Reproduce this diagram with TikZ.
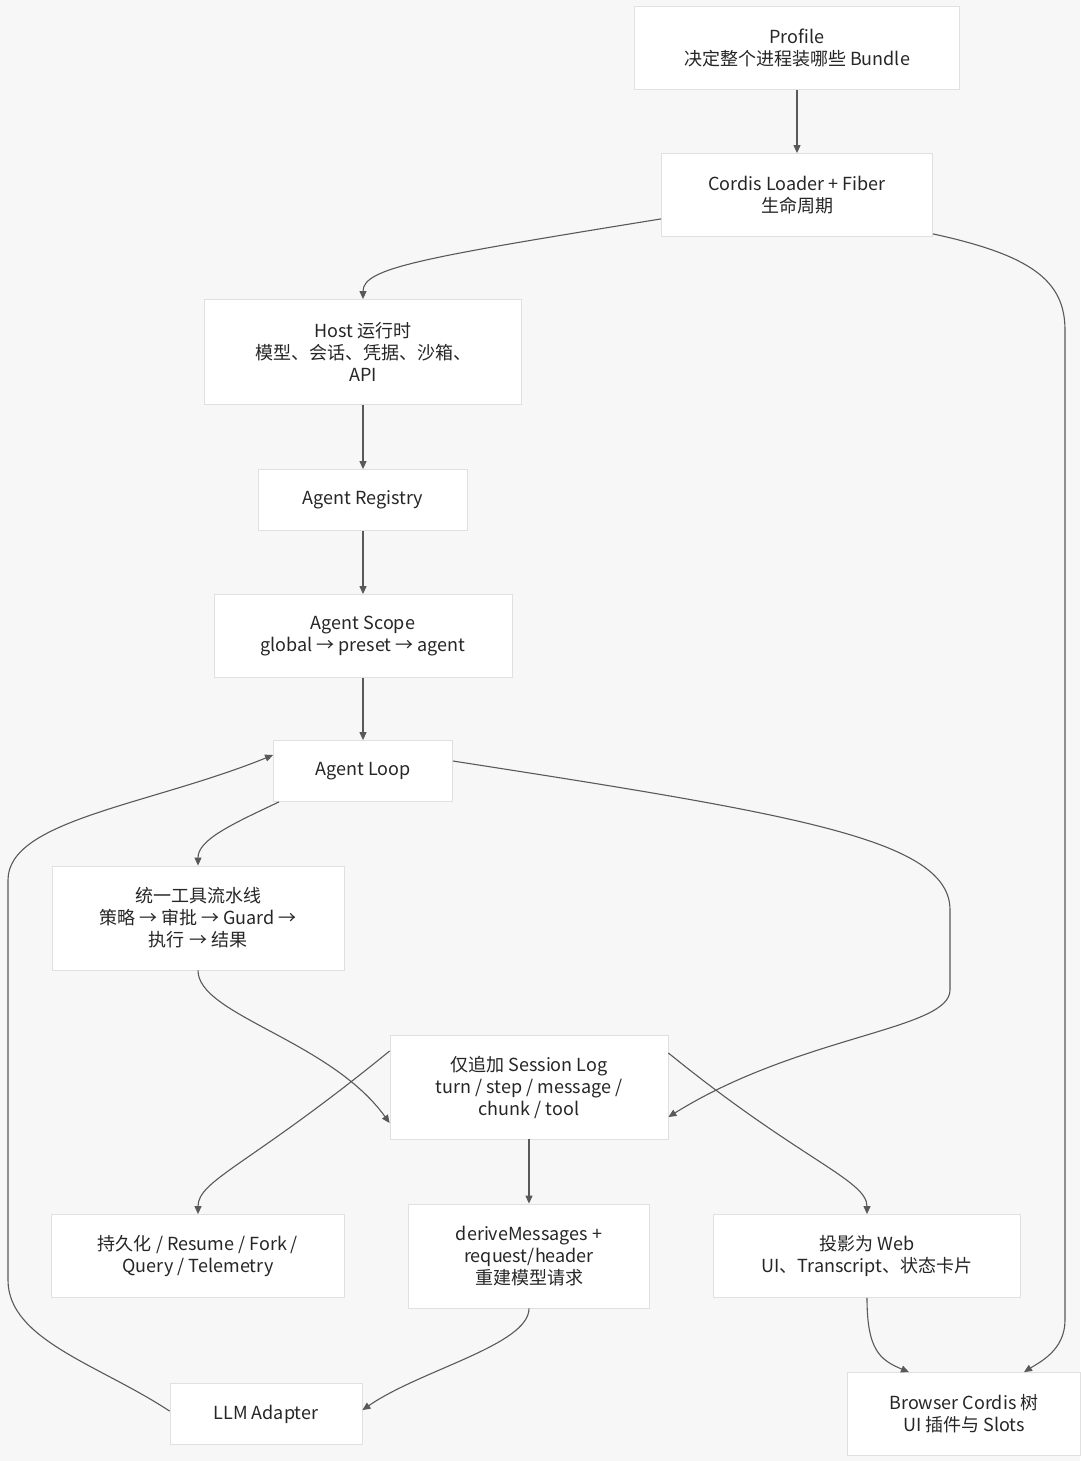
\documentclass[tikz,border=0pt]{standalone}
\usepackage{fontspec}
\setmainfont{Noto Sans CJK SC}
\usetikzlibrary{arrows.meta}
\begin{document}
\begin{tikzpicture}[x=1pt,y=-1pt,
  box/.style={draw=black!12,fill=white,line width=0.8pt,align=center,inner sep=0pt,text=black!85,font=\fontsize{18}{22}\selectfont},
  conn/.style={draw=black!65,line width=1.1pt,-{Triangle[length=8pt,width=7pt]}}]
\fill[black!3] (0,0) rectangle (1080,1461);
\useasboundingbox (0,0) rectangle (1080,1461);
\node[box,minimum width=325,minimum height=83] (prof) at (797,48) {Profile\\决定整个进程装哪些 Bundle};
\node[box,minimum width=271,minimum height=83] (cord) at (797,195) {Cordis Loader + Fiber\\生命周期};
\node[box,minimum width=317,minimum height=105] (host) at (363,352) {Host 运行时\\模型、会话、凭据、沙箱、\\API};
\node[box,minimum width=209,minimum height=61] (reg) at (363,500) {Agent Registry};
\node[box,minimum width=298,minimum height=83] (scope) at (363,636) {Agent Scope\\global → preset → agent};
\node[box,minimum width=179,minimum height=61] (loop) at (363,771) {Agent Loop};
\node[box,minimum width=292,minimum height=104] (pipe) at (198,918) {统一工具流水线\\策略 → 审批 → Guard →\\执行 → 结果};
\node[box,minimum width=278,minimum height=104] (log) at (529,1087) {仅追加 Session Log\\turn / step / message /\\chunk / tool};
\node[box,minimum width=293,minimum height=83] (pers) at (198,1256) {持久化 / Resume / Fork /\\Query / Telemetry};
\node[box,minimum width=241,minimum height=104] (der) at (529,1256) {deriveMessages +\\request/header\\重建模型请求};
\node[box,minimum width=307,minimum height=83] (proj) at (867,1256) {投影为 Web\\UI、Transcript、状态卡片};
\node[box,minimum width=192,minimum height=61] (llm) at (266,1414) {LLM Adapter};
\node[box,minimum width=233,minimum height=83] (brow) at (964,1414) {Browser Cordis 树\\UI 插件与 Slots};

\draw[conn] (prof) -- (cord);
\draw[conn] (cord.south west) ++(0,-18) .. controls (420,258) and (363,268) .. (host.north);
\draw[conn] (cord.south east) ++(0,-3) .. controls (1030,255) and (1065,280) .. (1065,330) -- (1065,1320) .. controls (1065,1350) and (1040,1362) .. ([xshift=60]brow.north);
\draw[conn] (host) -- (reg);
\draw[conn] (reg) -- (scope);
\draw[conn] (scope) -- (loop);
\draw[conn] ([xshift=-84]loop.south) .. controls (230,825) and (198,840) .. (pipe.north);
\draw[conn] ([yshift=10]loop.east) .. controls (800,815) and (950,840) .. (950,910) -- (950,990) .. controls (950,1030) and (800,1035) .. ([yshift=-30]log.east);
\draw[conn] (pipe.south) .. controls (198,1015) and (330,1040) .. ([yshift=-36]log.west);
\draw[conn] ([yshift=36]log.west) .. controls (250,1165) and (198,1180) .. (pers.north);
\draw[conn] (log) -- (der);
\draw[conn] ([yshift=34]log.east) .. controls (800,1160) and (867,1180) .. (proj.north);
\draw[conn] (der.south) .. controls (529,1345) and (420,1370) .. ([yshift=-27]llm.north east);
\draw[conn] (proj.south) .. controls (867,1350) and (880,1360) .. ([xshift=-55]brow.north);
\draw[conn] ([yshift=-28]llm.north west) .. controls (100,1365) and (8,1340) .. (8,1280) -- (8,880) .. controls (8,820) and (150,805) .. ([yshift=16]loop.west);
\end{tikzpicture}
\end{document}
